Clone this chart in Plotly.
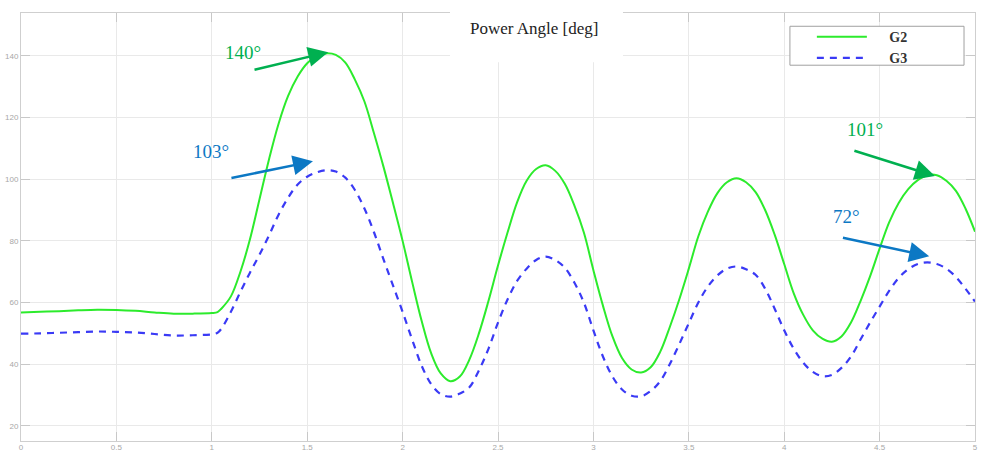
import plotly.graph_objects as go

# ---- data ----
g2_time = [0, 0.1, 0.2, 0.3, 0.4, 0.5, 0.6, 0.7, 0.8, 0.9, 1.0, 1.03,
           1.05, 1.10, 1.15, 1.20, 1.25, 1.30, 1.35, 1.40, 1.45, 1.50, 1.55, 1.60, 1.65,
           1.70, 1.75, 1.80, 1.85, 1.90, 1.95, 2.00, 2.05, 2.10, 2.15, 2.20, 2.25, 2.30,
           2.35, 2.40, 2.45, 2.50, 2.55, 2.60, 2.65, 2.70, 2.75, 2.80, 2.85, 2.90, 2.95,
           3.00, 3.05, 3.10, 3.15, 3.20, 3.25, 3.30, 3.35, 3.40, 3.45, 3.50, 3.55, 3.60,
           3.65, 3.70, 3.75, 3.80, 3.85, 3.90, 3.95, 4.00, 4.05, 4.10, 4.15, 4.20, 4.25,
           4.30, 4.35, 4.40, 4.45, 4.50, 4.55, 4.60, 4.65, 4.70, 4.75, 4.80, 4.85, 4.90,
           4.95, 5.00]
g2_angle = [56.8, 57.0, 57.2, 57.5, 57.7, 57.6, 57.3, 56.8, 56.4, 56.4, 56.6, 56.9,
            58.0, 62.0, 70.0, 80.5, 93.5, 106.5, 118.0, 127.0, 133.3, 137.6, 140.0, 140.8, 140.3,
            137.8, 132.3, 125.2, 114.9, 104.0, 92.2, 80.0, 66.7, 54.0, 43.5, 37.0, 34.5, 36.0,
            41.5, 50.0, 60.5, 72.0, 82.7, 92.5, 99.5, 103.3, 104.5, 102.7, 98.5, 91.5, 82.7,
            70.5, 59.0, 49.0, 42.0, 38.3, 37.3, 39.0, 44.0, 52.0, 61.0, 71.0, 81.5, 89.5,
            95.5, 99.0, 100.3, 99.0, 95.8, 90.0, 82.0, 72.5, 63.0, 56.0, 51.0, 48.3, 47.3,
            49.0, 53.5, 60.5, 68.5, 77.5, 86.0, 92.3, 96.8, 99.7, 101.3, 101.3, 99.5, 96.2,
            90.5, 83.0]

g3_time = [0, 0.1, 0.2, 0.3, 0.4, 0.5, 0.6, 0.7, 0.8, 0.9, 1.0, 1.03,
           1.05, 1.10, 1.15, 1.20, 1.25, 1.30, 1.35, 1.40, 1.45, 1.50, 1.55, 1.60, 1.65,
           1.70, 1.75, 1.80, 1.85, 1.90, 1.95, 2.00, 2.05, 2.10, 2.15, 2.20, 2.25, 2.30,
           2.35, 2.40, 2.45, 2.50, 2.55, 2.60, 2.65, 2.70, 2.75, 2.80, 2.85, 2.90, 2.95,
           3.00, 3.05, 3.10, 3.15, 3.20, 3.25, 3.30, 3.35, 3.40, 3.45, 3.50, 3.55, 3.60,
           3.65, 3.70, 3.75, 3.80, 3.85, 3.90, 3.95, 4.00, 4.05, 4.10, 4.15, 4.20, 4.25,
           4.30, 4.35, 4.40, 4.45, 4.50, 4.55, 4.60, 4.65, 4.70, 4.75, 4.80, 4.85, 4.90,
           4.95, 5.00]
g3_angle = [49.9, 50.0, 50.2, 50.4, 50.6, 50.5, 50.3, 49.8, 49.3, 49.4, 49.7, 50.2,
            51.5, 57.0, 63.5, 69.7, 75.5, 81.8, 88.5, 94.0, 98.3, 100.8, 102.2, 102.9, 102.5,
            100.5, 96.5, 90.5, 82.8, 74.0, 65.5, 57.0, 48.0, 39.5, 33.5, 30.3, 29.5, 30.5,
            32.5, 38.0, 45.0, 53.5, 61.0, 67.0, 71.0, 73.8, 74.9, 73.8, 71.3, 66.5, 60.0,
            51.0, 42.5, 36.0, 31.8, 29.8, 29.6, 31.3, 34.5, 40.0, 46.5, 53.3, 60.0, 65.2,
            68.8, 71.0, 71.7, 70.8, 69.0, 64.5, 58.0, 51.0, 45.0, 40.5, 37.5, 36.1, 36.5,
            38.8, 42.5, 48.0, 53.5, 58.7, 63.8, 68.0, 70.8, 72.5, 73.0, 72.5, 71.0, 68.3,
            64.5, 60.3]

x_ticks = [0, 0.5, 1, 1.5, 2, 2.5, 3, 3.5, 4, 4.5, 5]
x_tick_labels = ["0", "0.5", "1", "1.5", "2", "2.5", "3", "3.5", "4", "4.5", "5"]
y_ticks = [20, 40, 60, 80, 100, 120, 140]
y_tick_labels = ["20", "40", "60", "80", "100", "120", "140"]

peak_labels = ["140°", "103°", "101°", "72°"]

GREEN_LINE = "#2CEB2C"
BLUE_LINE = "#3A3AF5"
GREEN_TXT = "#00B050"
BLUE_TXT = "#0C78C4"
SERIF = "Liberation Serif"
NBSP = "\u00a0"

fig = go.Figure()
fig.add_trace(go.Scatter(x=g2_time, y=g2_angle, mode="lines", name=NBSP * 5 + "<b>G2</b>",
                         line=dict(color=GREEN_LINE, width=2, shape="spline", smoothing=1.0)))
fig.add_trace(go.Scatter(x=g3_time, y=g3_angle, mode="lines", name=NBSP * 5 + "<b>G3</b>",
                         line=dict(color=BLUE_LINE, width=2.2, dash="7px,6px",
                                   shape="spline", smoothing=1.0)))

axis_common = dict(showgrid=True, gridcolor="#E9E9E9", gridwidth=1,
                   showline=True, linecolor="#CFCFCF", linewidth=1, mirror="ticks",
                   ticks="inside", ticklen=9, tickcolor="#C8C8C8", tickwidth=1,
                   tickfont=dict(family="Liberation Sans", size=8, color="#A8A8A8"),
                   zeroline=False, automargin=False)

fig.update_xaxes(range=[0, 5], tickvals=x_ticks, ticktext=x_tick_labels,
                 ticklabelstandoff=-2, **axis_common)
fig.update_yaxes(range=[15.1, 153.9], tickvals=y_ticks, ticktext=y_tick_labels, **axis_common)

shapes = [
    # white title box
    dict(type="rect", xref="paper", yref="paper", x0=0.4497, x1=0.631, y0=0.885, y1=1.05,
         fillcolor="white", line=dict(width=0), layer="above"),
    # legend box
    dict(type="rect", xref="paper", yref="paper", x0=0.806, x1=0.9885, y0=0.878, y1=0.969,
         fillcolor="white", line=dict(color="#A0A0A0", width=1), layer="above"),
]

annotations = [
    dict(text="Power Angle [deg]", xref="paper", yref="paper", x=0.5377, y=0.963,
         xanchor="center", yanchor="middle",
         showarrow=False, font=dict(family=SERIF, size=17, color="#222222")),
]

# arrows: (tail_x, tail_y, head_x, head_y, color)
arrows = [
    (1.216, 135.4, 1.61, 141.2, GREEN_TXT),
    (1.095, 100.3, 1.53, 105.8, BLUE_TXT),
    (4.36, 109.4, 4.79, 101.0, GREEN_TXT),
    (4.30, 81.1, 4.76, 75.0, BLUE_TXT),
]
label_pos = [(1.164, 141.2), (0.995, 109.0), (4.426, 116.2), (4.325, 88.0)]
label_col = [GREEN_TXT, BLUE_TXT, GREEN_TXT, BLUE_TXT]

for (tx, ty, hx, hy, c) in arrows:
    annotations.append(dict(x=hx, y=hy, ax=tx, ay=ty, xref="x", yref="y", axref="x", ayref="y",
                            text="", showarrow=True, arrowhead=2, arrowsize=1.6,
                            arrowwidth=2.5, arrowcolor=c, standoff=0))
for (lx, ly), txt, c in zip(label_pos, peak_labels, label_col):
    annotations.append(dict(x=lx, y=ly, xref="x", yref="y", text=txt, showarrow=False,
                            xanchor="center", yanchor="middle",
                            font=dict(family=SERIF, size=19, color=c)))

fig.update_layout(
    width=981, height=455,
    margin=dict(l=21, r=6, t=13, b=14),
    plot_bgcolor="white", paper_bgcolor="white",
    shapes=shapes, annotations=annotations,
    showlegend=True,
    legend=dict(x=0.829, y=0.981, xanchor="left", yanchor="top",
                bgcolor="rgba(0,0,0,0)", borderwidth=0,
                font=dict(family=SERIF, size=14, color="#333333"),
                itemwidth=50, tracegroupgap=0),
)

fig.write_html("out.html")
